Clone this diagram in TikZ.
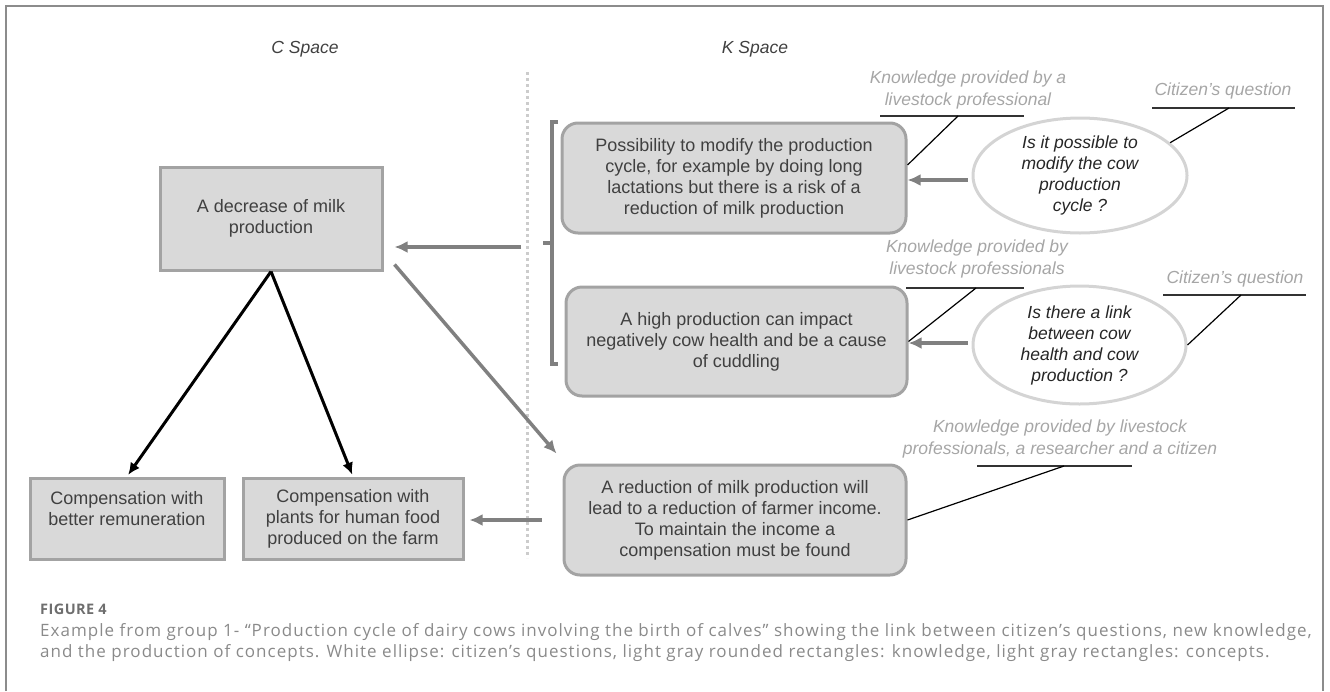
\documentclass[tikz,border=0pt]{standalone}
\usepackage{fontspec}
\setmainfont{Liberation Sans}
\newfontfamily\capfont{Open Sans}[LetterSpace=6]
\newfontfamily\figfont{Open Sans}[LetterSpace=3]
\usetikzlibrary{arrows.meta,shapes.geometric}
\definecolor{boxline}{HTML}{A3A3A3}
\definecolor{boxfill}{HTML}{D9D9D9}
\definecolor{boxtext}{HTML}{404040}
\definecolor{ellline}{HTML}{D4D4D4}
\definecolor{labeltext}{HTML}{A6A6A6}
\definecolor{arrowgray}{HTML}{808080}
\definecolor{dotgray}{HTML}{CCCCCC}
\definecolor{framegray}{HTML}{8C8C8C}
\definecolor{captext}{HTML}{8A8A8A}
\definecolor{figtext}{HTML}{6E6E6E}
\tikzset{
  concept/.style={draw=boxline, fill=boxfill, line width=3pt, text=boxtext,
    align=center, inner sep=0pt, font=\fontsize{18}{21}\selectfont},
  knowledge/.style={concept, rounded corners=16pt},
  question/.style={ellipse, draw=ellline, fill=white, line width=3pt, inner sep=0pt,
    align=center, text=black!85, font=\fontsize{17.5}{21}\selectfont\itshape},
  source/.style={align=center, text=labeltext, font=\fontsize{17.5}{22}\selectfont\itshape},
  space/.style={text=boxtext, font=\fontsize{17.5}{21}\selectfont\itshape},
  flow/.style={draw=arrowgray, line width=3.5pt, -{Latex[length=13pt,width=12pt]}},
  derive/.style={draw=black, line width=3pt, -{Latex[length=12pt,width=11pt]}},
  leader/.style={draw=black, line width=1.2pt},
  underline/.style={draw=black!80, line width=2pt},
}
\begin{document}
\begin{tikzpicture}[x=1pt,y=-1pt]
  \useasboundingbox (0,0) rectangle (1330,691);
  \draw[framegray, line width=1.5pt] (6,691) -- (6,6) -- (1323,6) -- (1323,691);
  \draw[dotgray, line width=3pt, dash pattern=on 3pt off 3pt] (527,72) -- (527,558);

  \node[space] (cspace) at (305,49) {C Space};
  \node[space] (kspace) at (755,49) {K Space};

  \node[concept, minimum width=222pt, minimum height=103pt] (dec) at (271,218.5)
    {A decrease of milk\\production};
  \node[concept, minimum width=194pt, minimum height=81pt] (rem) at (127,518.5)
    {Compensation with\\better remuneration\\\mbox{}};
  \node[concept, minimum width=220pt, minimum height=81pt] (plants) at (353,518.5)
    {Compensation with\\plants for human food\\produced on the farm};

  \node[knowledge, minimum width=344pt, minimum height=110pt] (k1) at (734,178)
    {Possibility to modify the production\\cycle, for example by doing long\\lactations but there is a risk of a\\reduction of milk production};
  \node[knowledge, minimum width=341pt, minimum height=109pt] (k2) at (736.5,341.5)
    {A high production can impact\\negatively cow health and be a cause\\of cuddling};
  \node[knowledge, minimum width=342pt, minimum height=110pt] (k3) at (735,520)
    {A reduction of milk production will\\lead to a reduction of farmer income.\\To maintain the income a\\compensation must be found};

  \node[question, minimum width=214pt, minimum height=115pt] (q1) at (1080,175.5)
    {Is it possible to\\modify the cow\\production\\cycle ?};
  \node[question, minimum width=213pt, minimum height=118pt] (q2) at (1079.5,345)
    {Is there a link\\between cow\\health and cow\\production ?};

  \node[source] (src1) at (968,90) {Knowledge provided by a\\livestock professional};
  \node[source] (src2) at (977,258.5) {Knowledge provided by\\livestock professionals};
  \node[source] (src3) at (1060,439) {Knowledge provided by livestock\\professionals, a researcher and a citizen};
  \node[source] (cit1) at (1223,91) {Citizen’s question};
  \node[source] (cit2) at (1235,279) {Citizen’s question};

  \coordinate (src1l) at (880,116);
  \coordinate (src1r) at (1024,116);
  \coordinate (src1m) at (958,116);
  \coordinate (src2l) at (906,288);
  \coordinate (src2r) at (1024,288);
  \coordinate (src2m) at (976,288);
  \coordinate (src3l) at (977,466);
  \coordinate (src3r) at (1132,466);
  \coordinate (src3m) at (1064,466);
  \coordinate (cit1l) at (1152,108);
  \coordinate (cit1r) at (1295,108);
  \coordinate (cit1m) at (1229,108);
  \coordinate (cit2l) at (1163,295);
  \coordinate (cit2r) at (1306,295);
  \coordinate (cit2m) at (1241,295);

  \begin{scope}[underline]
    \draw (src1l) -- (src1r);
    \draw (src2l) -- (src2r);
    \draw (src3l) -- (src3r);
    \draw (cit1l) -- (cit1r);
    \draw (cit2l) -- (cit2r);
  \end{scope}
  \begin{scope}[leader]
    \draw (src1m) -- ([yshift=13pt]k1.east);
    \draw (src2m) -- (k2.east);
    \draw (src3m) -- (k3.east);
    \draw (cit1m) -- (q1.20);
    \draw (cit2m) -- (q2.east);
  \end{scope}

  \draw[line width=3.5pt, arrowgray] (558,122) -- (552,122) -- (552,364) -- (558,364);
  \draw[line width=3.5pt, arrowgray] (552,243) -- (543,243);
  \coordinate (brace) at (521,247);

  \begin{scope}[flow]
    \draw ([xshift=-4pt,yshift=-4.5pt]q1.west) -- ([yshift=-2pt]k1.east);
    \draw ([xshift=-4pt,yshift=2pt]q2.west) -- ([yshift=-1.5pt]k2.east);
    \draw (brace) -- ([xshift=11pt,yshift=-28.5pt]dec.east);
    \draw ([shift={(11,-7)}]dec.south east) -- ([shift={(-6,-10)}]k3.north west);
    \draw ([xshift=-21pt]k3.west) -- ([xshift=5pt]k3.west -| plants.east);
  \end{scope}
  \begin{scope}[derive, shorten >=2pt]
    \draw (dec.south) -- (rem.north);
    \draw (dec.south) -- (plants.north);
  \end{scope}

  \node[anchor=west, inner sep=0pt, text=figtext, font={\figfont\bfseries\fontsize{14.5}{17}\selectfont}] (fig) at (40,609) {FIGURE 4};
  \node[anchor=west, align=left, inner sep=0pt, text=captext, font={\capfont\fontsize{17}{21}\selectfont}] (caption) at (40,642.5)
    {Example from group 1- “Production cycle of dairy cows involving the birth of calves” showing the link between citizen’s questions, new knowledge,\\and the production of concepts. White ellipse: citizen’s questions, light gray rounded rectangles: knowledge, light gray rectangles: concepts.};
\end{tikzpicture}
\end{document}
